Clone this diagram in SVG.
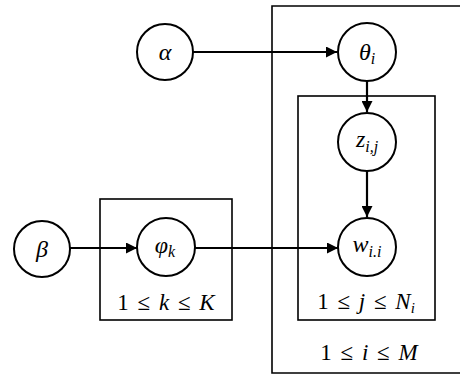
<svg xmlns="http://www.w3.org/2000/svg" width="460" height="374" viewBox="0 0 460 374">
  <style>
    .node circle { fill: #fff; stroke: #000; stroke-width: 2; }
    .plate { fill: none; stroke: #000; stroke-width: 1.6; }
    .lbl { font-family: "Liberation Serif", "DejaVu Serif", serif; font-style: italic; font-size: 24px; fill: #000; text-anchor: middle; }
    .sub { font-size: 16px; }
    .plbl { font-family: "Liberation Serif", "DejaVu Serif", serif; font-size: 23px; word-spacing: 3px; fill: #000; text-anchor: middle; }
    .plbl .v { font-style: italic; }
    .edge { stroke: #000; stroke-width: 2.2; fill: none; marker-end: url(#arr); }
  </style>
  <defs>
    <marker id="arr" viewBox="0 0 10 10" refX="10" refY="5" markerWidth="5" markerHeight="5" markerUnits="strokeWidth" orient="auto">
      <path d="M0,0 L10,5 L0,10 z" fill="#000"/>
    </marker>
  </defs>
  <rect width="460" height="374" fill="#fff"/>

  <!-- plates -->
  <g id="plates">
    <path class="plate" d="M470,6 H272 V373 H470"/>
    <rect class="plate" x="298" y="96" width="137" height="224"/>
    <rect class="plate" x="100" y="199" width="132" height="121"/>
    <text class="plbl" x="166" y="310">1 ≤ <tspan class="v">k</tspan> ≤ <tspan class="v">K</tspan></text>
    <text class="plbl" x="366" y="309">1 ≤ <tspan class="v">j</tspan> ≤ <tspan class="v">N</tspan><tspan class="v" font-size="15" dy="4">i</tspan></text>
    <text class="plbl" x="369" y="360">1 ≤ <tspan class="v">i</tspan> ≤ <tspan class="v">M</tspan></text>
  </g>

  <!-- connectors -->
  <g id="edges">
    <line class="edge" x1="193" y1="52" x2="337" y2="52"/>
    <line class="edge" x1="367" y1="81" x2="367" y2="112"/>
    <line class="edge" x1="367" y1="171" x2="367" y2="217"/>
    <line class="edge" x1="70" y1="248" x2="137" y2="248"/>
    <line class="edge" x1="195" y1="248" x2="338" y2="248"/>
  </g>

  <g id="alpha" class="node">
    <circle cx="165" cy="52" r="28"/>
    <text class="lbl" x="165" y="60">α</text>
  </g>
  <g id="theta" class="node">
    <circle cx="367" cy="52" r="29"/>
    <text class="lbl" x="367" y="60">θ<tspan class="sub" dy="4">i</tspan></text>
  </g>
  <g id="z" class="node">
    <circle cx="367" cy="142" r="29"/>
    <text class="lbl" x="367" y="147">z<tspan class="sub" dy="5">i,j</tspan></text>
  </g>
  <g id="w" class="node">
    <circle cx="367" cy="247" r="29"/>
    <text class="lbl" x="367" y="252">w<tspan class="sub" dy="5">i.i</tspan></text>
  </g>
  <g id="beta" class="node">
    <circle cx="42" cy="249" r="28"/>
    <text class="lbl" x="42" y="257">β</text>
  </g>
  <g id="phi" class="node">
    <circle cx="166" cy="247" r="29"/>
    <text class="lbl" x="165" y="253">φ<tspan class="sub" dy="4">k</tspan></text>
  </g>
</svg>
